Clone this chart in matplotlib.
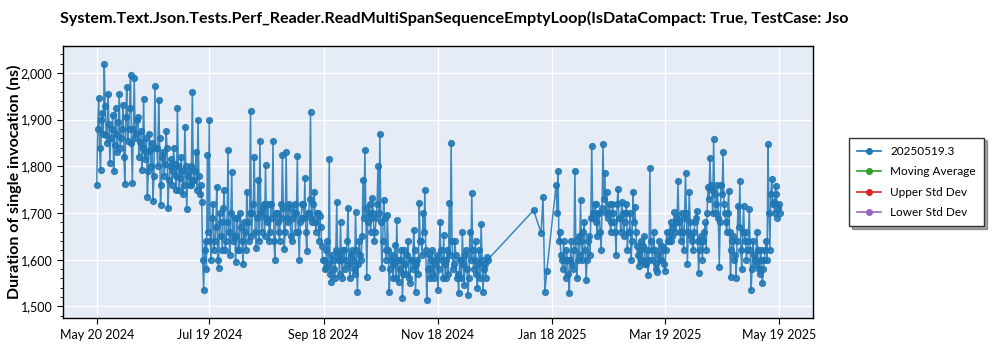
import datetime as dt
import matplotlib
matplotlib.use("Agg")
from matplotlib import pyplot as plt
from matplotlib.lines import Line2D
import matplotlib.dates as mdates
from matplotlib.ticker import FuncFormatter, MultipleLocator

plt.rcParams["font.family"] = ["Lato", "DejaVu Sans"]

# ---- data: one value at midnight, one at noon per day ----
start_a = dt.datetime(2024, 5, 20)
values_a = [
    1760, 1947, 1793, 1915, 2020, 1867, 1955, 1808, 1880, 1790,
    1926, 1830, 1955, 1860, 1932, 1763, 1970, 1880, 1996, 1765,
    1990, 1870, 1906, 1853, 1793, 1945, 1830, 1735, 1870, 1800,
    1725, 1971, 1840, 1942, 1718, 1820, 1780, 1875, 1710, 1800,
    1760, 1840, 1780, 1926, 1750, 1820, 1740, 1885, 1708, 1790,
    1760, 1960, 1770, 1830, 1900, 1740, 1723, 1535, 1640, 1825,
    1900, 1600, 1720, 1640, 1756, 1582, 1680, 1620, 1749, 1640,
    1835, 1610, 1788, 1650, 1595, 1690, 1620, 1670, 1590, 1660,
    1746, 1640, 1919, 1700, 1820, 1625, 1770, 1855, 1660, 1720,
    1803, 1680, 1640, 1720, 1855, 1600, 1700, 1660, 1720, 1825,
    1623, 1831, 1680, 1710, 1640, 1700, 1660, 1823, 1600, 1690,
    1720, 1775, 1619, 1700, 1917, 1680, 1746, 1660, 1700, 1694,
    1630, 1600, 1583, 1640, 1815, 1553, 1600, 1560, 1724, 1610,
    1680, 1560, 1620, 1600, 1711, 1560, 1620, 1580, 1703, 1531,
    1640, 1600, 1771, 1835, 1563, 1700, 1660, 1733, 1640, 1690,
    1800, 1870, 1583, 1728, 1620, 1696, 1530, 1600, 1560, 1632,
    1685, 1553, 1600, 1518, 1620, 1570, 1640, 1550, 1600, 1664,
    1531, 1600, 1722, 1640, 1700, 1750, 1514, 1612, 1582, 1620,
    1560, 1600, 1535, 1681, 1600, 1652, 1560, 1620, 1722, 1850,
    1580, 1640, 1560, 1529, 1600, 1660, 1545, 1620, 1525, 1660,
    1743, 1580, 1640, 1540, 1620, 1677, 1530, 1590, 1606,
]
values_a_noon = [
    1880, 1840, 1900, 1870, 1930, 1850, 1890, 1860, 1910, 1845,
    1870, 1895, 1840, 1880, 1820, 1905, 1855, 1925, 1850, 1880,
    1860, 1900, 1820, 1875, 1840, 1815, 1860, 1790, 1835, 1850,
    1780, 1840, 1800, 1860, 1760, 1830, 1805, 1840, 1770, 1815,
    1790, 1805, 1750, 1800, 1775, 1790, 1760, 1800, 1780, 1760,
    1800, 1770, 1790, 1750, 1780, 1760, 1600, 1620, 1580, 1660,
    1640, 1690, 1620, 1670, 1600, 1700, 1650, 1710, 1620, 1680,
    1660, 1700, 1640, 1690, 1650, 1620, 1700, 1640, 1680, 1620,
    1680, 1700, 1650, 1720, 1660, 1690, 1640, 1700, 1710, 1650,
    1690, 1720, 1660, 1690, 1640, 1700, 1680, 1640, 1690, 1710,
    1660, 1690, 1720, 1650, 1690, 1720, 1700, 1660, 1680, 1720,
    1690, 1660, 1700, 1730, 1690, 1720, 1680, 1700, 1640, 1670,
    1600, 1580, 1620, 1590, 1570, 1610, 1580, 1620, 1600, 1570,
    1600, 1620, 1580, 1640, 1590, 1610, 1600, 1570, 1620, 1590,
    1610, 1650, 1690, 1710, 1680, 1720, 1690, 1700, 1660, 1720,
    1700, 1680, 1640, 1690, 1600, 1620, 1580, 1610, 1590, 1560,
    1600, 1580, 1620, 1570, 1590, 1610, 1560, 1600, 1580, 1620,
    1590, 1570, 1640, 1610, 1660, 1620, 1580, 1560, 1600, 1570,
    1590, 1610, 1580, 1620, 1560, 1590, 1600, 1570, 1610, 1640,
    1590, 1610, 1570, 1600, 1560, 1590, 1610, 1580, 1560, 1600,
    1620, 1600, 1570, 1590, 1560, 1600, 1580, 1560, 1600,
]

lone_date = dt.datetime(2025, 1, 8)
lone_value = 1706

start_b1 = dt.datetime(2025, 1, 12)
values_b1 = [1657, 1735, 1531, 1575]

start_b2 = dt.datetime(2025, 1, 20)
values_b2 = [
    1760, 1790, 1660, 1600, 1640, 1560, 1600, 1528, 1640, 1580,
    1790, 1560, 1650, 1727, 1600, 1681, 1557, 1640, 1610, 1844,
    1690, 1720, 1650, 1700, 1620, 1848, 1786, 1746, 1700, 1660,
    1720, 1680, 1610, 1751, 1690, 1724, 1650, 1700, 1620, 1660,
    1600, 1746, 1714, 1630, 1587, 1640, 1600, 1650, 1590, 1568,
    1797, 1620, 1660, 1590, 1574, 1640, 1600, 1620, 1576, 1660,
    1640, 1680, 1650, 1703, 1680, 1769, 1660, 1700, 1620, 1786,
    1591, 1745, 1650, 1620, 1680, 1704, 1572, 1640, 1600, 1660,
    1620, 1756, 1818, 1750, 1859, 1700, 1760, 1585, 1760, 1831,
    1700, 1660, 1748, 1563, 1640, 1600, 1562, 1715, 1769, 1580,
    1716, 1660, 1620, 1709, 1535, 1640, 1600, 1660, 1580, 1620,
    1550, 1600, 1640, 1848, 1620, 1772, 1724, 1758, 1690, 1720,
]
values_b2_noon = [
    1700, 1640, 1610, 1580, 1600, 1620, 1570, 1600, 1590, 1620,
    1640, 1600, 1610, 1640, 1660, 1620, 1600, 1650, 1690, 1700,
    1720, 1680, 1700, 1660, 1710, 1730, 1700, 1690, 1720, 1680,
    1700, 1660, 1720, 1690, 1660, 1700, 1680, 1720, 1660, 1700,
    1640, 1680, 1660, 1610, 1620, 1600, 1630, 1590, 1620, 1600,
    1640, 1600, 1620, 1580, 1610, 1600, 1630, 1590, 1620, 1640,
    1660, 1640, 1670, 1660, 1690, 1680, 1640, 1660, 1690, 1700,
    1660, 1680, 1640, 1660, 1690, 1640, 1620, 1650, 1640, 1680,
    1700, 1730, 1760, 1700, 1740, 1720, 1690, 1680, 1740, 1720,
    1680, 1700, 1660, 1620, 1650, 1610, 1640, 1670, 1620, 1660,
    1640, 1600, 1640, 1620, 1580, 1610, 1590, 1620, 1570, 1600,
    1580, 1620, 1600, 1700, 1740, 1720, 1700, 1740, 1710, 1700,
]

series_name = "20250519.3"
legend_names = [series_name, "Moving Average", "Upper Std Dev", "Lower Std Dev"]
legend_colors = ["#1f77b4", "#2ca02c", "#d62728", "#9467bd"]

title = ("System.Text.Json.Tests.Perf_Reader.ReadMultiSpanSequenceEmptyLoop"
         "(IsDataCompact: True, TestCase: Jso")


def day_points(start, vals, offset_h=0):
    return [(start + dt.timedelta(days=i, hours=offset_h), v)
            for i, v in enumerate(vals)]


pts = day_points(start_a, values_a) + day_points(start_a, values_a_noon, 12)
pts += [(lone_date, lone_value)]
pts += day_points(start_b1, values_b1)
pts += day_points(start_b2, values_b2) + day_points(start_b2, values_b2_noon, 12)
pts.sort()
dates = [p[0] for p in pts]
values = [p[1] for p in pts]

# ---- plot ----
fig = plt.figure(figsize=(10, 3.5), dpi=100)
ax = fig.add_axes([0.063, 0.091, 0.75, 0.778])
ax.set_facecolor("#E5ECF6")

ax.plot(dates, values, color="#1f77b4", lw=1.1, alpha=0.85,
        marker="o", ms=4.2, mec="#1f77b4", mfc="#1f77b4")

ax.set_xlim(dt.datetime(2024, 5, 2), dt.datetime(2025, 6, 6))
ax.set_ylim(1475, 2058)

ticks = [dt.datetime(2024, 5, 20), dt.datetime(2024, 7, 19),
         dt.datetime(2024, 9, 18), dt.datetime(2024, 11, 18),
         dt.datetime(2025, 1, 18), dt.datetime(2025, 3, 19),
         dt.datetime(2025, 5, 19)]
ax.set_xticks(ticks)
ax.xaxis.set_major_formatter(mdates.DateFormatter("%b %d %Y"))
ax.yaxis.set_major_locator(MultipleLocator(100))
ax.yaxis.set_minor_locator(MultipleLocator(20))
ax.yaxis.set_major_formatter(FuncFormatter(lambda v, p: f"{int(v):,}"))

ax.grid(True, color="white", lw=1.0)
ax.set_axisbelow(True)
ax.tick_params(labelsize=9, length=4)
ax.tick_params(axis="y", which="minor", length=2.5)
for s in ax.spines.values():
    s.set_color("black")
    s.set_linewidth(1.0)

ax.set_ylabel("Duration of single invocation (ns)", fontsize=11.5,
              fontweight="bold")
ax.yaxis.set_label_coords(-0.054, 0.5)
fig.text(0.06, 0.948, title, fontsize=11.6, fontweight="bold",
         ha="left", va="center")

handles = [Line2D([0], [0], color=c, marker="o", ms=4, lw=1.2)
           for c in legend_colors]
leg = ax.legend(handles, legend_names, loc="center left",
                bbox_to_anchor=(1.04, 0.5), fontsize=8.5, fancybox=False,
                shadow=True, frameon=True, borderpad=0.7, labelspacing=0.8,
                handlelength=2.0)
leg.get_frame().set_edgecolor("#333333")

fig.savefig("out.png", dpi=100)
